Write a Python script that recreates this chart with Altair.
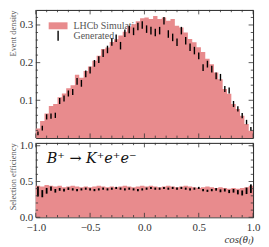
import altair as alt
import numpy as np
import pandas as pd

# ---------------- data ----------------
N_BINS = 50
EDGES = np.round(np.linspace(-1.0, 1.0, N_BINS + 1), 3)
CENTERS = np.round((EDGES[:-1] + EDGES[1:]) / 2, 3)

# top panel: simulation histogram (event density)
SIM_DENSITY = [0.025, 0.045, 0.065, 0.085, 0.090, 0.108, 0.118, 0.132, 0.140, 0.168,
               0.160, 0.178, 0.190, 0.205, 0.218, 0.236, 0.240, 0.255, 0.262, 0.272,
               0.282, 0.296, 0.302, 0.310, 0.318,
               0.320, 0.316, 0.324, 0.316, 0.320, 0.311, 0.316, 0.298, 0.293, 0.280,
               0.263, 0.254, 0.241, 0.228, 0.210, 0.196, 0.174, 0.156, 0.130, 0.117,
               0.090, 0.077, 0.059, 0.037, 0.019]
# top panel: generated points
GEN_DENSITY = [0.012, 0.026, 0.056, 0.058, 0.060, 0.098, 0.105, 0.118, 0.122, 0.150,
               0.145, 0.170, 0.180, 0.198, 0.208, 0.225, 0.235, 0.255, 0.265, 0.245,
               0.278, 0.288, 0.283, 0.296, 0.300,
               0.289, 0.285, 0.280, 0.285, 0.311, 0.276, 0.267, 0.254, 0.285, 0.258,
               0.241, 0.232, 0.218, 0.187, 0.196, 0.183, 0.165, 0.161, 0.130, 0.126,
               0.090, 0.077, 0.059, 0.042, 0.024]
GEN_ERR = [0.005, 0.006, 0.007, 0.007, 0.007, 0.008, 0.008, 0.008, 0.008, 0.009,
           0.009, 0.009, 0.009, 0.009, 0.009, 0.010, 0.010, 0.010, 0.010, 0.010,
           0.010, 0.010, 0.010, 0.010, 0.010,
           0.010, 0.010, 0.010, 0.010, 0.010, 0.010, 0.010, 0.010, 0.010, 0.010,
           0.010, 0.010, 0.009, 0.009, 0.009, 0.009, 0.009, 0.009, 0.008, 0.008,
           0.008, 0.007, 0.007, 0.006, 0.005]

# bottom panel: selection efficiency
EFF_HIST = [0.44, 0.43, 0.45, 0.44, 0.43, 0.44, 0.42, 0.43, 0.44, 0.43,
            0.42, 0.43, 0.42, 0.43, 0.44, 0.43, 0.42, 0.43, 0.42, 0.43,
            0.44, 0.43, 0.42, 0.43, 0.44,
            0.43, 0.44, 0.43, 0.42, 0.43, 0.44, 0.43, 0.42, 0.43, 0.44,
            0.43, 0.42, 0.41, 0.42, 0.43, 0.42, 0.41, 0.42, 0.41, 0.40,
            0.41, 0.40, 0.41, 0.42, 0.44]
EFF_PTS = [0.36, 0.33, 0.37, 0.40, 0.37, 0.39, 0.38, 0.40, 0.39, 0.38,
           0.39, 0.40, 0.39, 0.38, 0.39, 0.40, 0.39, 0.40, 0.41, 0.40,
           0.39, 0.40, 0.39, 0.38, 0.39,
           0.40, 0.41, 0.40, 0.40, 0.41, 0.40, 0.41, 0.40, 0.41, 0.40,
           0.39, 0.40, 0.41, 0.38, 0.37, 0.38, 0.39, 0.37, 0.38, 0.36,
           0.37, 0.35, 0.34, 0.37, 0.40]
EFF_ERR = [0.07, 0.05, 0.04, 0.03, 0.025, 0.02, 0.02, 0.018, 0.016, 0.015,
           0.015, 0.015, 0.015, 0.015, 0.015, 0.015, 0.015, 0.015, 0.015, 0.015,
           0.015, 0.015, 0.015, 0.015, 0.015,
           0.015, 0.015, 0.015, 0.015, 0.015, 0.015, 0.015, 0.015, 0.015, 0.015,
           0.015, 0.015, 0.015, 0.015, 0.015, 0.016, 0.018, 0.02, 0.02, 0.022,
           0.025, 0.03, 0.035, 0.045, 0.06]

# ticks
X_MAJOR = [-1.0, -0.5, 0.0, 0.5, 1.0]
X_MINOR = [-0.9, -0.8, -0.7, -0.6, -0.4, -0.3, -0.2, -0.1,
           0.1, 0.2, 0.3, 0.4, 0.6, 0.7, 0.8, 0.9]
Y1_LABELS = [0.1, 0.2, 0.3]
Y1_MAJOR = [0.1, 0.2, 0.3]
Y1_MINOR = [0.02, 0.04, 0.06, 0.08, 0.12, 0.14, 0.16, 0.18, 0.22, 0.24, 0.26, 0.28, 0.32]
Y2_MAJOR = [0.0, 0.5, 1.0]
Y2_MINOR = [0.1, 0.2, 0.3, 0.4, 0.6, 0.7, 0.8, 0.9]

# ---------------- style ----------------
W, H1, H2 = 219, 129, 75
PINK = "#E88B8D"
FONT = "Liberation Serif"
TICK_C = "#333333"
MAJ, MIN = 4.5, 2.3

xs = alt.Scale(domain=[-1, 1], nice=False, zero=False)
y1s = alt.Scale(domain=[0, 0.34], nice=False)
y2s = alt.Scale(domain=[0, 1.04], nice=False)

y1_axis = alt.Axis(values=Y1_LABELS, format=".1f", title="Event density",
                   titleAnchor="end", titleFontSize=8.5, titleColor="#555555",
                   titleFont=FONT, titleFontWeight="normal", titlePadding=0,
                   minExtent=18, maxExtent=18, labelPadding=3, labelFlush=False,
                   labelOverlap=False)
y2_axis = alt.Axis(values=Y2_MAJOR, format=".1f", title="Selection efficiency",
                   titleAnchor="end", titleFontSize=8.5, titleColor="#555555",
                   titleFont=FONT, titleFontWeight="normal", titlePadding=0,
                   minExtent=18, maxExtent=18, labelPadding=3, labelFlush=False,
                   labelOverlap=False)
x_axis = alt.Axis(values=X_MAJOR, format=".1f", title="cos(θₗ)", titleAnchor="end",
                  titleFont=FONT, titleFontStyle="italic", titleFontWeight="normal",
                  titleFontSize=11, titleColor="#333333", titlePadding=1,
                  labelPadding=4, labelFlush=False, labelOverlap=False)

hist_top = pd.DataFrame({"x": EDGES, "h": SIM_DENSITY + [SIM_DENSITY[-1]]})
gen_top = pd.DataFrame({"c": CENTERS, "lo": np.array(GEN_DENSITY) - np.array(GEN_ERR),
                        "hi": np.array(GEN_DENSITY) + np.array(GEN_ERR)})
hist_bot = pd.DataFrame({"x": EDGES, "h": EFF_HIST + [EFF_HIST[-1]]})
pts_bot = pd.DataFrame({"c": CENTERS, "lo": np.array(EFF_PTS) - np.array(EFF_ERR),
                        "hi": np.array(EFF_PTS) + np.array(EFF_ERR)})


def x_ticks(H, xaxis):
    layers = []
    for vals, ln in ((X_MAJOR, MAJ), (X_MINOR, MIN)):
        df = pd.DataFrame({"x": vals})
        base = alt.Chart(df).mark_rule(color=TICK_C, strokeWidth=0.8)
        layers.append(base.encode(x=alt.X("x:Q", scale=xs, axis=xaxis),
                                  y=alt.value(H), y2=alt.value(H - ln)))
        layers.append(base.encode(x=alt.X("x:Q", scale=xs, axis=xaxis),
                                  y=alt.value(0), y2=alt.value(ln)))
    return layers


def y_ticks(major, minor, ys, yaxis):
    layers = []
    for vals, ln in ((major, MAJ), (minor, MIN)):
        df = pd.DataFrame({"h": vals})
        base = alt.Chart(df).mark_rule(color=TICK_C, strokeWidth=0.8)
        layers.append(base.encode(y=alt.Y("h:Q", scale=ys, axis=yaxis),
                                  x=alt.value(0), x2=alt.value(ln)))
        layers.append(base.encode(y=alt.Y("h:Q", scale=ys, axis=yaxis),
                                  x=alt.value(W), x2=alt.value(W - ln)))
    return layers


# ---------------- top panel ----------------
leg_txt1 = alt.Chart(pd.DataFrame({"a": [0]})).mark_text(
    text="LHCb Simulation", font=FONT, fontSize=10, color="#555555",
    align="left", baseline="middle").encode(x=alt.value(38), y=alt.value(16))
leg_txt2 = alt.Chart(pd.DataFrame({"a": [0]})).mark_text(
    text="Generated", font=FONT, fontSize=10, color="#555555",
    align="left", baseline="middle").encode(x=alt.value(38), y=alt.value(26))

area_top = alt.Chart(hist_top).mark_area(interpolate="step-after", color=PINK,
                                         opacity=1).encode(
    x=alt.X("x:Q", scale=xs, axis=None),
    y=alt.Y("h:Q", scale=y1s, axis=y1_axis))

err_top = alt.Chart(gen_top).mark_rule(color="black", strokeWidth=1.4).encode(
    x=alt.X("c:Q", scale=xs, axis=None),
    y=alt.Y("lo:Q", scale=y1s, axis=y1_axis), y2="hi:Q")

leg_patch = alt.Chart(pd.DataFrame({"a": [0]})).mark_rect(color=PINK).encode(
    x=alt.value(13), x2=alt.value(32), y=alt.value(12.5), y2=alt.value(19.5))
leg_err = alt.Chart(pd.DataFrame({"a": [0]})).mark_rule(
    color="black", strokeWidth=1.4).encode(
    x=alt.value(22.5), y=alt.value(21), y2=alt.value(31))

top = alt.layer(
    leg_txt1, leg_txt2, area_top, err_top, leg_patch, leg_err,
    *x_ticks(H1, None), *y_ticks(Y1_MAJOR, Y1_MINOR, y1s, y1_axis)
).properties(width=W, height=H1)

# ---------------- bottom panel ----------------
area_bot = alt.Chart(hist_bot).mark_area(interpolate="step-after", color=PINK,
                                         opacity=1).encode(
    x=alt.X("x:Q", scale=xs, axis=x_axis),
    y=alt.Y("h:Q", scale=y2s, axis=y2_axis))

err_bot = alt.Chart(pts_bot).mark_rule(color="black", strokeWidth=1.8).encode(
    x=alt.X("c:Q", scale=xs, axis=x_axis),
    y=alt.Y("lo:Q", scale=y2s, axis=y2_axis), y2="hi:Q")

decay = alt.Chart(pd.DataFrame({"a": [0]})).mark_text(
    text="B⁺ → K⁺e⁺e⁻", font="DejaVu Serif", fontSize=14.5, fontStyle="italic",
    color="#111111", align="left", baseline="alphabetic").encode(
    x=alt.value(11), y=alt.value(20))

bottom = alt.layer(
    area_bot, err_bot, decay,
    *x_ticks(H2, x_axis), *y_ticks(Y2_MAJOR, Y2_MINOR, y2s, y2_axis)
).properties(width=W, height=H2)

chart = alt.vconcat(top, bottom, spacing=0).properties(
    padding={"left": 0, "top": 0, "right": 0, "bottom": 0}
).configure_view(stroke="#222222", strokeWidth=1).configure_axis(
    domain=False, ticks=False, grid=False, labelFont=FONT, labelFontSize=11,
    labelColor="#333333"
)

chart.save("out.html", embed_options={"renderer": "svg", "actions": False})
